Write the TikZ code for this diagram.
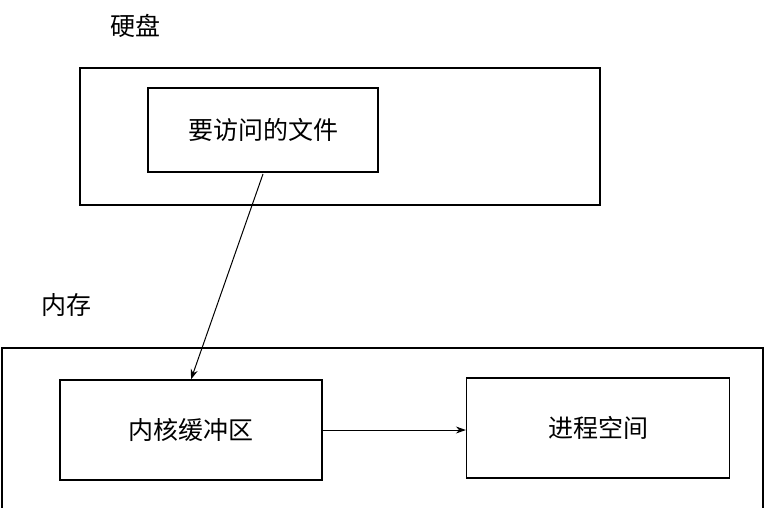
\documentclass[tikz,border=0pt]{standalone}
\usepackage{fontspec}
\newfontfamily\cjk{Noto Sans CJK SC}
\usetikzlibrary{arrows.meta}
\begin{document}
\begin{tikzpicture}[x=1pt,y=-1pt,
  box/.style={draw,line width=1.2pt},
  lbl/.style={font=\cjk\fontsize{25}{28}\selectfont},
  arr/.style={-{Stealth[length=10pt,width=7pt]},line width=1pt}]
\useasboundingbox[fill=white] (0,0) rectangle (765,507);
\node[lbl] (t1) at (135,26) {硬盘};
\draw[box] (80,68) rectangle (600,205);
\node[box,lbl,minimum width=230pt,minimum height=84pt] (f) at (263,130) {要访问的文件};
\node[lbl] (t2) at (66,305) {内存};
\draw[box] (2,348) rectangle (763,515);
\node[box,lbl,minimum width=262pt,minimum height=100pt] (k) at (191,430) {内核缓冲区};
\node[box,lbl,minimum width=263pt,minimum height=100pt] (p) at (598,428) {进程空间};
\draw[arr] (263,174) -- (k.north);
\draw[arr] (k.east) -- (p.west|-k.east);
\end{tikzpicture}
\end{document}
